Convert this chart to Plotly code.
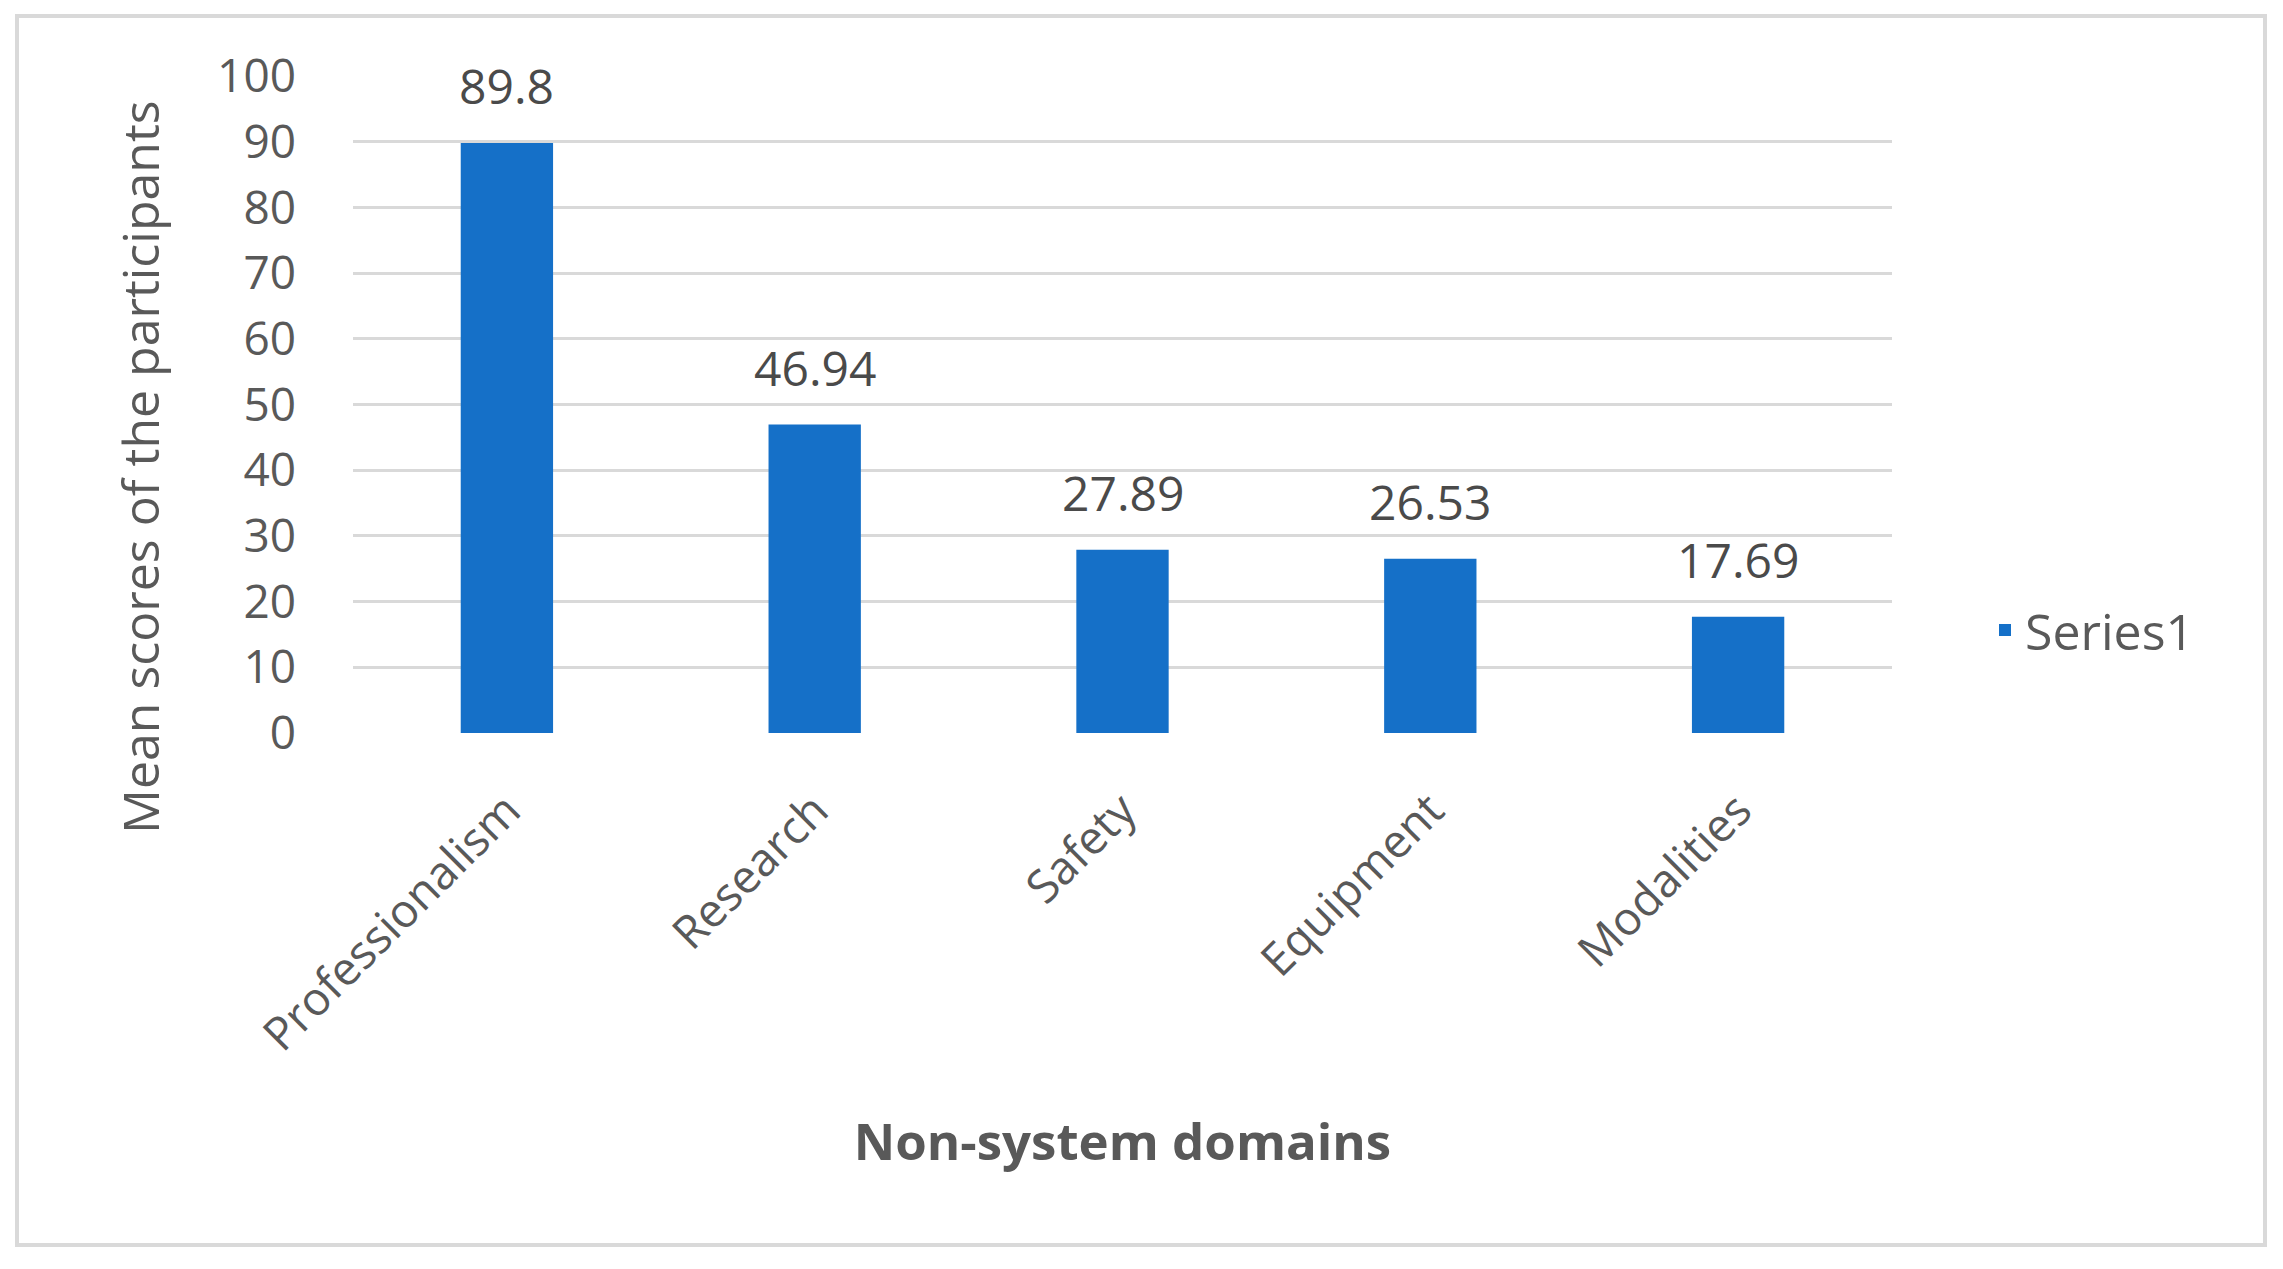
import plotly.graph_objects as go

categories = ["Professionalism", "Research", "Safety", "Equipment", "Modalities"]
values = [89.8, 46.94, 27.89, 26.53, 17.69]
series_name = "Series1"
y_ticks = [0, 10, 20, 30, 40, 50, 60, 70, 80, 90, 100]
x_title = "Non-system domains"
y_title = "Mean scores of the participants"

BAR = "#1570C8"
GREY = "#595959"
GRID = "#D9D9D9"
FONT = "Open Sans"

W, H = 2283, 1269
L, R, T, B = 353, 2283 - 1892, 76, 1269 - 733
pw = W - L - R
ph = H - T - B

fig = go.Figure()
fig.add_trace(go.Bar(
    x=categories, y=values, name=series_name,
    marker=dict(color=BAR, line=dict(width=0)),
    showlegend=True,
))

for c, v in zip(categories, values):
    fig.add_annotation(
        x=c, y=v, text=str(v), showarrow=False,
        yanchor="bottom", yshift=23,
        font=dict(family=FONT, size=48, color="#4A4A4A"),
    )

# y-axis title (placed like the Excel original, centred lower than the plot area)
fig.add_annotation(
    xref="paper", yref="paper", x=(140 - L) / pw, y=(H - B - 467) / ph,
    text=y_title, textangle=-90, showarrow=False,
    xanchor="center", yanchor="middle",
    font=dict(family=FONT, size=50, color=GREY),
)

fig.add_shape(
    type="rect", xref="paper", yref="paper",
    x0=(17 - L) / pw, x1=(2265 - L) / pw,
    y0=(H - B - 1245) / ph, y1=(H - B - 16) / ph,
    line=dict(color=GRID, width=4), fillcolor="rgba(0,0,0,0)", layer="below",
)

fig.update_layout(
    width=W, height=H,
    margin=dict(l=L, r=R, t=T, b=B, autoexpand=False),
    paper_bgcolor="white", plot_bgcolor="white",
    bargap=0.7,
    font=dict(family=FONT, size=46, color=GREY),
    legend=dict(
        x=(1985 - L) / pw, y=(H - B - 630) / ph, xanchor="left", yanchor="middle",
        font=dict(family=FONT, size=50, color=GREY),
        itemwidth=30, tracegroupgap=0,
    ),
    xaxis=dict(
        tickangle=-45, showgrid=False, showline=False, zeroline=False,
        ticks="", ticklabelstandoff=40,
        tickfont=dict(family=FONT, size=46, color=GREY),
        title=dict(text=x_title, standoff=62,
                   font=dict(family=FONT, size=51, color=GREY, weight="bold")),
        automargin=False,
    ),
    yaxis=dict(
        range=[0, 100], tickvals=y_ticks, showgrid=True, gridcolor=GRID, gridwidth=3,
        zeroline=False, showline=False, ticks="", ticklabelstandoff=56,
        tickfont=dict(family=FONT, size=46, color=GREY),
        automargin=False,
    ),
)

fig.write_html("out.html", config={"displayModeBar": False},
               post_script="document.body.style.margin='0';")
